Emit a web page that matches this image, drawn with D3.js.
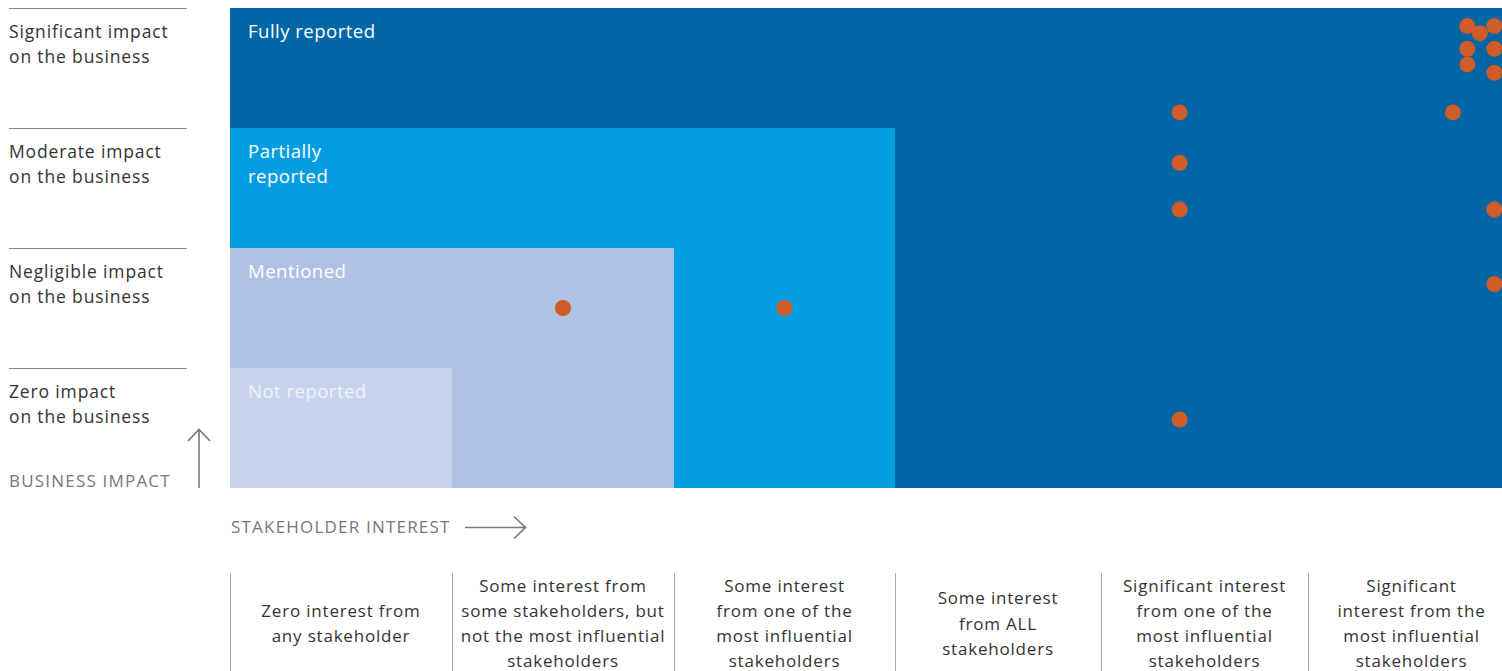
<!DOCTYPE html>
<html><head><meta charset="utf-8">
<script src="https://cdn.jsdelivr.net/npm/d3@7"></script>
<style>
html,body{margin:0;padding:0;background:#fff;}
svg{display:block;font-family:"Open Sans", "Noto Sans", sans-serif;}
</style></head>
<body>
<svg id="chart" width="1502" height="671"></svg>
<script>
// ---- data ----
const impactLevels = ["Zero impact|on the business","Negligible impact|on the business","Moderate impact|on the business","Significant impact|on the business"];
const interestLevels = [
  "Zero interest from|any stakeholder",
  "Some interest from|some stakeholders, but|not the most influential|stakeholders",
  "Some interest|from one of the|most influential|stakeholders",
  "Some interest|from ALL|stakeholders",
  "Significant interest|from one of the|most influential|stakeholders",
  "Significant|interest from the|most influential|stakeholders"
];
// reporting zones: extent in interest columns and impact rows
const zoneNames = ["Fully reported","Partially|reported","Mentioned","Not reported"];
const zoneInterest = [6,3,2,1];
const zoneImpact = [4,3,2,1];
const zoneColors = ["#0066a5","#049de0","#b0c2e3","#c8d4eb"];
const zoneTextColors = ["#ffffff","#ffffff","#ffffff","#eef2fa"];
// topics: interest score (0-6), impact score (0-4)
const topicInterest = [1.50,2.50,4.38,4.38,4.38,4.38,5.70,5.90,5.90,5.77,5.83,5.90,5.77,5.90,5.77,5.90];
const topicImpact   = [1.50,1.50,3.13,2.71,2.32,0.57,3.13,2.32,1.70,3.85,3.79,3.85,3.66,3.66,3.53,3.46];
const yAxisTitle = "BUSINESS IMPACT";
const xAxisTitle = "STAKEHOLDER INTEREST";

// ---- scales ----
const svg = d3.select("#chart");
const x = d3.scaleLinear().domain([0,1,2,3,4,5,6]).range([230,452,674,895,1101,1308,1515]);
const y = d3.scaleLinear().domain([0,4]).range([488,8]);

// zones
const zones = zoneNames.map((n,i)=>({name:n, xi:zoneInterest[i], yi:zoneImpact[i], c:zoneColors[i], tc:zoneTextColors[i]}));
svg.append("g").selectAll("rect").data(zones).join("rect")
  .attr("x", x(0)).attr("y", d=>y(d.yi))
  .attr("width", d=>x(d.xi)-x(0)).attr("height", d=>y(0)-y(d.yi))
  .attr("fill", d=>d.c);
const zl = svg.append("g").selectAll("text").data(zones).join("text")
  .attr("fill", d=>d.tc).attr("font-size", 18.6).attr("font-weight", 500).attr("letter-spacing", 0.45);
zl.each(function(d){
  const t = d3.select(this);
  d.name.split("|").forEach((s,k)=>t.append("tspan").attr("x", x(0)+18).attr("y", y(d.yi)+30+k*25).text(s));
});

// dots
svg.append("g").selectAll("circle").data(topicInterest.map((v,i)=>[v,topicImpact[i]])).join("circle")
  .attr("cx", d=>x(d[0])).attr("cy", d=>y(d[1])).attr("r", 8).attr("fill", "#d05c2a");

// left impact labels
const rows = impactLevels.map((s,i)=>({s, v:i+1}));
svg.append("g").selectAll("line").data(rows).join("line")
  .attr("x1", 9).attr("x2", 187).attr("y1", d=>y(d.v)+0.5).attr("y2", d=>y(d.v)+0.5)
  .attr("stroke", "#8a8a8a").attr("stroke-width", 1);
svg.append("g").selectAll("text").data(rows).join("text")
  .attr("font-size", 17.5).attr("fill", "#333").attr("letter-spacing", 0.85)
  .each(function(d){
    const t = d3.select(this);
    d.s.split("|").forEach((s,k)=>t.append("tspan").attr("x", 9).attr("y", y(d.v)+30+k*25).text(s));
  });

// axis titles and arrows
svg.append("text").attr("x", 9).attr("y", 487).attr("font-size", 17).attr("fill", "#777")
  .attr("letter-spacing", 1.2).text(yAxisTitle);
svg.append("line").attr("x1",199).attr("x2",199).attr("y1",488).attr("y2",430).attr("stroke","#777").attr("stroke-width",1.6);
svg.append("path").attr("d","M188,441 L199,429.5 L210,441").attr("fill","none").attr("stroke","#777").attr("stroke-width",1.6);
svg.append("text").attr("x", 231).attr("y", 532.5).attr("font-size", 17).attr("fill", "#777")
  .attr("letter-spacing", 1.2).text(xAxisTitle);
svg.append("line").attr("x1",465).attr("x2",526).attr("y1",527.5).attr("y2",527.5).attr("stroke","#777").attr("stroke-width",1.6);
svg.append("path").attr("d","M514,516.5 L525.5,527.5 L514,538.5").attr("fill","none").attr("stroke","#777").attr("stroke-width",1.6);

// bottom interest labels
const cols = interestLevels.map((s,i)=>({s, i}));
svg.append("g").selectAll("line").data(cols).join("line")
  .attr("x1", d=>Math.round(x(d.i))+0.5).attr("x2", d=>Math.round(x(d.i))+0.5)
  .attr("y1", 573).attr("y2", 671).attr("stroke", "#aaa").attr("stroke-width", 1);
svg.append("g").selectAll("text").data(cols).join("text")
  .attr("font-size", 17).attr("fill", "#333").attr("text-anchor", "middle").attr("letter-spacing", 0.8)
  .each(function(d){
    const t = d3.select(this);
    const parts = d.s.split("|");
    const cx = (x(d.i)+x(d.i+1))/2;
    const y0 = 623.5 - (parts.length-1)*25.2/2 + 6;
    parts.forEach((s,k)=>t.append("tspan").attr("x", cx).attr("y", y0+k*25.2).text(s));
  });
</script>
</body></html>
